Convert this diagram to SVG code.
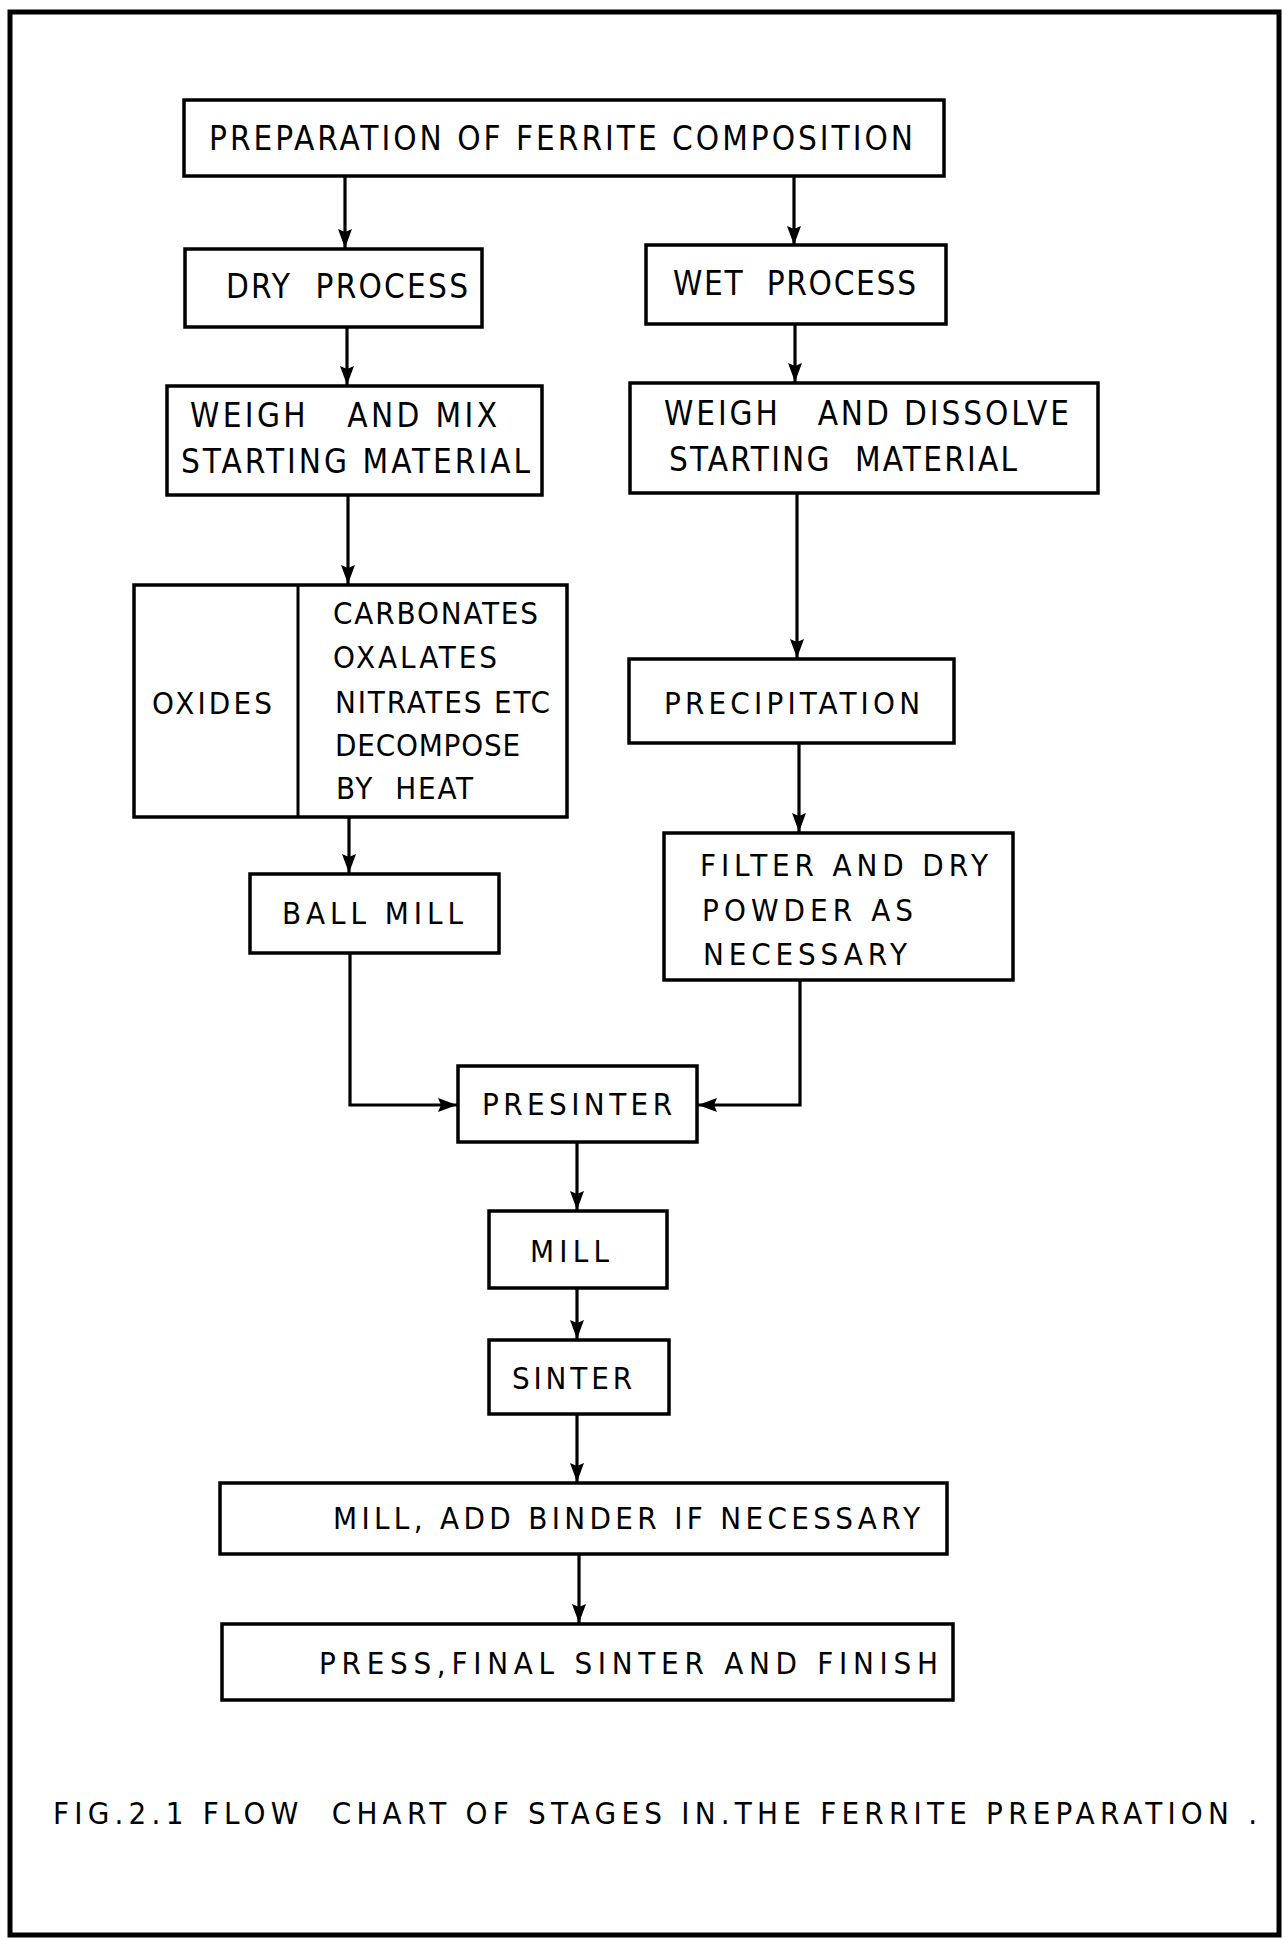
<svg xmlns="http://www.w3.org/2000/svg" width="1287" height="1940" viewBox="0 0 1287 1940">
<style>
.box{fill:#fff;stroke:#000;stroke-width:3.5}
.t{font-family:"Liberation Sans Narrow","DejaVu Sans Condensed","Liberation Sans",sans-serif;font-size:33px;fill:#000;white-space:pre}
.s{font-family:"Liberation Sans Narrow","DejaVu Sans Condensed","Liberation Sans",sans-serif;font-size:31px;fill:#000;white-space:pre}
.c{fill:none;stroke:#000;stroke-width:3.2}
</style>
<defs>
<marker id="ah" markerUnits="userSpaceOnUse" markerWidth="20" markerHeight="16" refX="19" refY="8" orient="auto">
<path d="M0,1 L19,8 L0,15 L3,8 z" fill="#000"/>
</marker>
</defs>
<rect x="0" y="0" width="1287" height="1940" fill="#fff"/>
<rect x="10" y="12" width="1269" height="1923" fill="none" stroke="#000" stroke-width="5"/>

<g id="n-prep"><rect class="box" x="184" y="100" width="760" height="76"/><text class="t" x="209" y="150" textLength="704" lengthAdjust="spacing">PREPARATION OF FERRITE COMPOSITION</text></g>
<g id="n-dry"><rect class="box" x="185" y="249" width="297" height="78"/><text class="t" x="226" y="298" textLength="242" lengthAdjust="spacing">DRY  PROCESS</text></g>
<g id="n-wet"><rect class="box" x="646" y="245" width="300" height="79"/><text class="t" x="673" y="295" textLength="243" lengthAdjust="spacing">WET  PROCESS</text></g>
<g id="n-mix"><rect class="box" x="167" y="386" width="375" height="109"/><text class="t" x="190" y="427" textLength="307" lengthAdjust="spacing">WEIGH   AND MIX</text><text class="t" x="181" y="473" textLength="349" lengthAdjust="spacing">STARTING MATERIAL</text></g>
<g id="n-dissolve"><rect class="box" x="630" y="383" width="468" height="110"/><text class="t" x="664" y="425" textLength="405" lengthAdjust="spacing">WEIGH   AND DISSOLVE</text><text class="t" x="669" y="471" textLength="348" lengthAdjust="spacing">STARTING  MATERIAL</text></g>
<g id="n-oxides"><rect class="box" x="134" y="585" width="433" height="232"/><line x1="298" y1="585" x2="298" y2="817" stroke="#000" stroke-width="3"/>
<text class="s" x="152" y="714" textLength="120" lengthAdjust="spacing">OXIDES</text>
<text class="s" x="333" y="624" textLength="205" lengthAdjust="spacing">CARBONATES</text>
<text class="s" x="333" y="668" textLength="164" lengthAdjust="spacing">OXALATES</text>
<text class="s" x="335" y="713" textLength="215" lengthAdjust="spacing">NITRATES ETC</text>
<text class="s" x="335" y="756" textLength="185" lengthAdjust="spacing">DECOMPOSE</text>
<text class="s" x="336" y="799" textLength="137" lengthAdjust="spacing">BY  HEAT</text></g>
<g id="n-precip"><rect class="box" x="629" y="659" width="325" height="84"/><text class="s" x="664" y="714" textLength="256" lengthAdjust="spacing">PRECIPITATION</text></g>
<g id="n-ball"><rect class="box" x="250" y="874" width="249" height="79"/><text class="s" x="282" y="924" textLength="181" lengthAdjust="spacing">BALL MILL</text></g>
<g id="n-filter"><rect class="box" x="664" y="833" width="349" height="147"/><text class="s" x="700" y="876" textLength="288" lengthAdjust="spacing">FILTER AND DRY</text><text class="s" x="702" y="921" textLength="211" lengthAdjust="spacing">POWDER AS</text><text class="s" x="703" y="965" textLength="204" lengthAdjust="spacing">NECESSARY</text></g>
<g id="n-presinter"><rect class="box" x="458" y="1066" width="239" height="76"/><text class="s" x="482" y="1115" textLength="190" lengthAdjust="spacing">PRESINTER</text></g>
<g id="n-mill"><rect class="box" x="489" y="1211" width="178" height="77"/><text class="s" x="530" y="1262" textLength="79" lengthAdjust="spacing">MILL</text></g>
<g id="n-sinter"><rect class="box" x="489" y="1340" width="180" height="74"/><text class="s" x="512" y="1389" textLength="120" lengthAdjust="spacing">SINTER</text></g>
<g id="n-binder"><rect class="box" x="220" y="1483" width="727" height="71"/><text class="s" x="333" y="1529" textLength="587" lengthAdjust="spacing">MILL, ADD BINDER IF NECESSARY</text></g>
<g id="n-press"><rect class="box" x="222" y="1624" width="731" height="76"/><text class="s" x="319" y="1674" textLength="619" lengthAdjust="spacing">PRESS,FINAL SINTER AND FINISH</text></g>
<g id="caption"><text class="s" x="53" y="1824" textLength="1204" lengthAdjust="spacing">FIG.2.1 FLOW  CHART OF STAGES IN.THE FERRITE PREPARATION .</text></g>

<g id="connectors">
<path class="c" d="M345,177 L345,248" marker-end="url(#ah)"/>
<path class="c" d="M794,176 L794,245" marker-end="url(#ah)"/>
<path class="c" d="M347,327 L347,385" marker-end="url(#ah)"/>
<path class="c" d="M795,324 L795,382" marker-end="url(#ah)"/>
<path class="c" d="M348,495 L348,584" marker-end="url(#ah)"/>
<path class="c" d="M797,493 L797,658" marker-end="url(#ah)"/>
<path class="c" d="M349,817 L349,873" marker-end="url(#ah)"/>
<path class="c" d="M799,743 L799,832" marker-end="url(#ah)"/>
<path class="c" d="M350,953 L350,1105 L457,1105" marker-end="url(#ah)"/>
<path class="c" d="M800,980 L800,1105 L698,1105" marker-end="url(#ah)"/>
<path class="c" d="M577,1142 L577,1210" marker-end="url(#ah)"/>
<path class="c" d="M577,1288 L577,1339" marker-end="url(#ah)"/>
<path class="c" d="M577,1414 L577,1482" marker-end="url(#ah)"/>
<path class="c" d="M579,1554 L579,1623" marker-end="url(#ah)"/>
</g>
</svg>
